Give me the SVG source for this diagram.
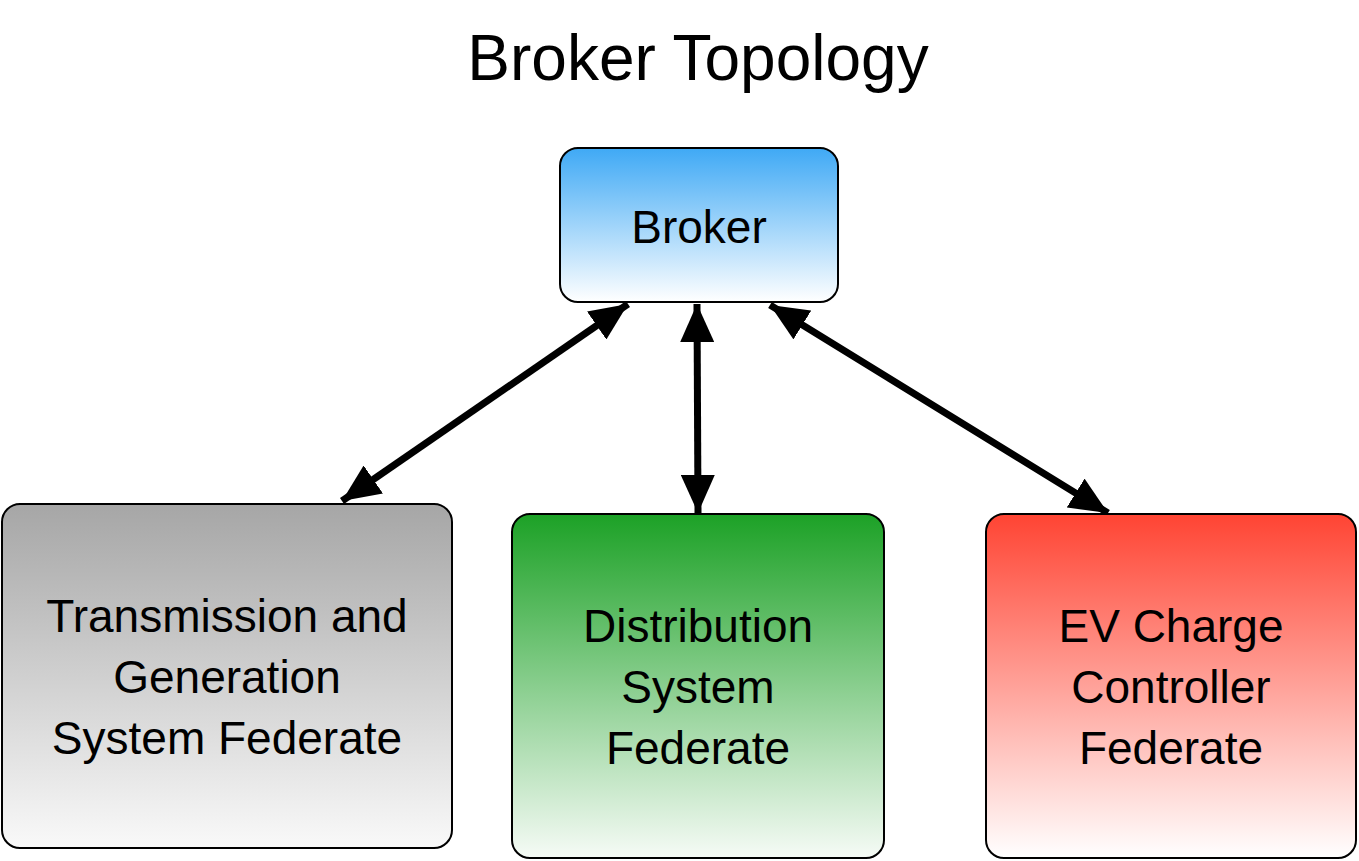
<svg xmlns="http://www.w3.org/2000/svg" width="1359" height="861" viewBox="0 0 1359 861">
<style>
.box{stroke:#000;stroke-width:2}
.t{font-family:"Liberation Sans",Arial,sans-serif;font-size:46px;fill:#000;text-anchor:middle}
.c{stroke:#000;stroke-width:7;fill:none}
</style>
<defs>
<linearGradient id="gb" x1="0" y1="0" x2="0" y2="1"><stop offset="0" stop-color="#3fa9f5"/><stop offset="1" stop-color="#ffffff"/></linearGradient>
<linearGradient id="gg" x1="0" y1="0" x2="0" y2="1"><stop offset="0" stop-color="#a6a6a6"/><stop offset="1" stop-color="#f9f9f9"/></linearGradient>
<linearGradient id="gr" x1="0" y1="0" x2="0" y2="1"><stop offset="0" stop-color="#1ca126"/><stop offset="1" stop-color="#f6fbf6"/></linearGradient>
<linearGradient id="grd" x1="0" y1="0" x2="0" y2="1"><stop offset="0" stop-color="#ff4433"/><stop offset="1" stop-color="#ffffff"/></linearGradient>
<marker id="a" markerUnits="userSpaceOnUse" markerWidth="40" markerHeight="34" refX="38" refY="17" orient="auto-start-reverse"><path d="M0,0 L38,17 L0,34 Z" fill="#000"/></marker>
</defs>
<text x="698" y="80" font-family="Liberation Sans,Arial,sans-serif" font-size="64" text-anchor="middle">Broker Topology</text>
<g id="connectors">
<line class="c" x1="628" y1="304" x2="342" y2="501" marker-start="url(#a)" marker-end="url(#a)"/>
<line class="c" x1="697" y1="304" x2="698" y2="513" marker-start="url(#a)" marker-end="url(#a)"/>
<line class="c" x1="770" y1="305" x2="1108" y2="513" marker-start="url(#a)" marker-end="url(#a)"/>
</g>
<g id="broker"><rect class="box" x="560" y="148" width="278" height="154" rx="18" fill="url(#gb)"/><text class="t" x="699" y="243">Broker</text></g>
<g id="transmission"><rect class="box" x="2" y="504" width="450" height="344" rx="18" fill="url(#gg)"/><text class="t" x="227" y="632">Transmission and</text><text class="t" x="227" y="693">Generation</text><text class="t" x="227" y="754">System Federate</text></g>
<g id="distribution"><rect class="box" x="512" y="514" width="372" height="344" rx="18" fill="url(#gr)"/><text class="t" x="698" y="642">Distribution</text><text class="t" x="698" y="703">System</text><text class="t" x="698" y="764">Federate</text></g>
<g id="ev"><rect class="box" x="986" y="514" width="370" height="344" rx="18" fill="url(#grd)"/><text class="t" x="1171" y="642">EV Charge</text><text class="t" x="1171" y="703">Controller</text><text class="t" x="1171" y="764">Federate</text></g>
</svg>
